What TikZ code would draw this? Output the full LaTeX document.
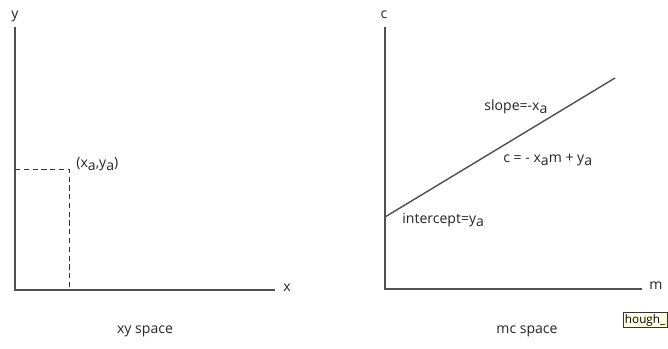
\documentclass[tikz,border=0pt]{standalone}
\usepackage{fontspec}
\setmainfont{Open Sans}
\usetikzlibrary{positioning}
\definecolor{axisgray}{RGB}{80, 80, 80}
\definecolor{tipyellow}{RGB}{255, 255, 225}
\newcommand{\lowsub}[1]{\raisebox{-0.45ex}{#1}}

\begin{document}
\begin{tikzpicture}[x=0.03cm, y=-0.03cm, font=\fontsize{12}{14}\selectfont,
                    axis/.style={draw=axisgray, line width=1.4pt},
                    guide/.style={draw=black!80, line width=0.6pt,
                                  dash pattern=on 4.5pt off 3pt},
                    lbl/.style={inner sep=1pt, text=black!85}]

    \useasboundingbox[fill=white] (0,0) rectangle (668,349);

    % ==========================================================
    % xy space
    % ==========================================================
    \begin{scope}

        % ejes
        \coordinate (O1) at (15,290);
        \coordinate (ytop) at (15,27);
        \coordinate (xend) at (275,290);
        \draw[axis] (ytop) -- (O1) -- (xend);
        \node[lbl] (ylab) at (15,16) {y};
        \node[lbl] (xlab) at (287,288) {x};

        % punto (x_a, y_a)
        \coordinate (pa) at (69,169);
        \coordinate (pay) at (15,169);
        \coordinate (pax) at (69,290);
        \draw[guide] (pay) -- (pa) -- (pax);
        \node[lbl, anchor=west] (palab) at (75,164)
            {(x\lowsub{a},y\lowsub{a})};

        \node[lbl] (xycap) at (145,331) {xy space};

    \end{scope}

    % ==========================================================
    % mc space
    % ==========================================================
    \begin{scope}

        % ejes
        \coordinate (O2) at (385,289);
        \coordinate (ctop) at (385,27);
        \coordinate (mend) at (642,289);
        \draw[axis] (ctop) -- (O2) -- (mend);
        \node[lbl] (clab) at (384,15) {c};
        \node[lbl] (mlab) at (656,286) {m};

        % recta c = -x_a m + y_a
        \coordinate (cint) at (385,217);
        \coordinate (cend) at (615,78);
        \draw[axis, line width=1.2pt] (cint) -- (cend);

        \node[lbl, anchor=west] (slope) at (483,107) {slope=-x\lowsub{a}};
        \node[lbl, anchor=west] (eqn) at (502,160)
            {c = - x\lowsub{a}m + y\lowsub{a}};
        \node[lbl, anchor=west] (icpt) at (401,220) {intercept=y\lowsub{a}};

        \node[lbl] (mccap) at (527,331) {mc space};

        % etiqueta emergente
        \node[draw=black!80, fill=tipyellow, anchor=west, font=\fontsize{10}{12}\selectfont,
              inner sep=1.5pt, text=black] (tip) at (623,320) {hough\_};

    \end{scope}

\end{tikzpicture}
\end{document}
